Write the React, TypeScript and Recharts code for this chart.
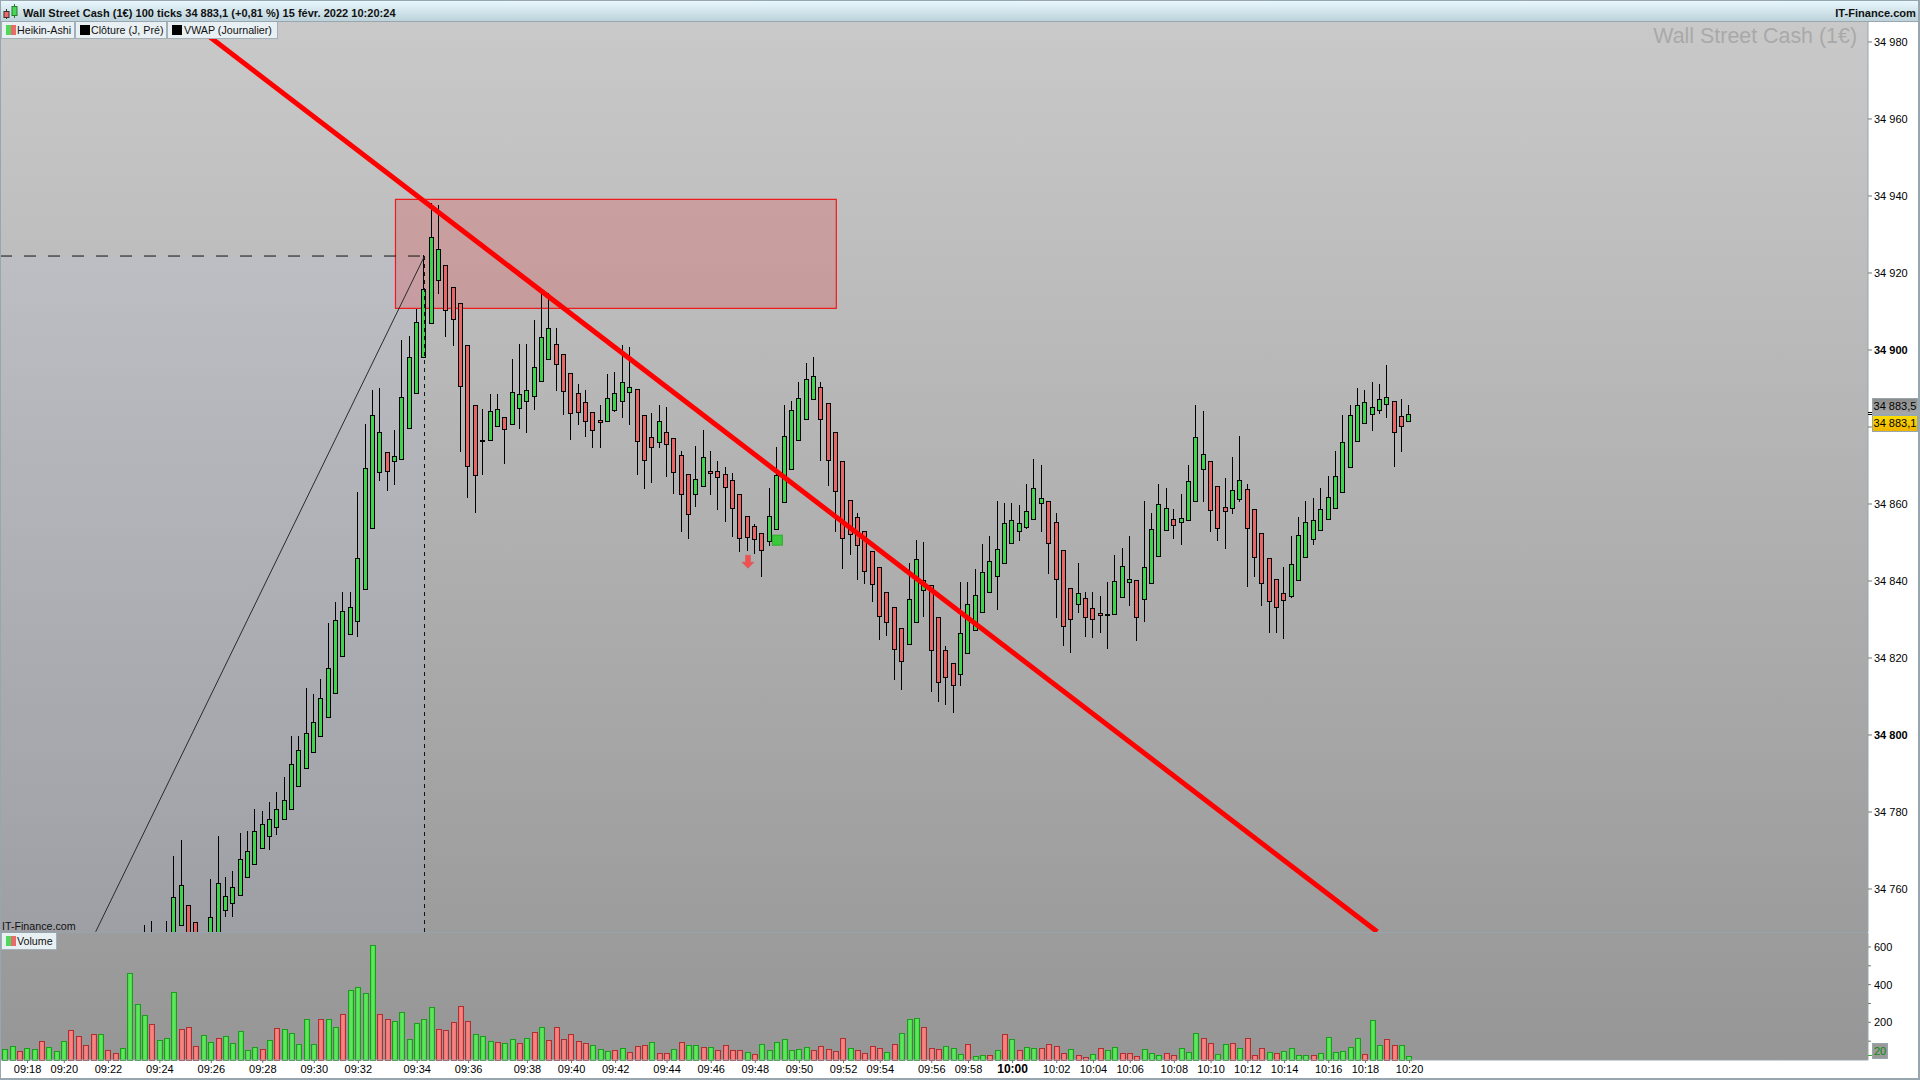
import React from "react";
import { ComposedChart, Bar, XAxis, YAxis, ReferenceLine, ReferenceArea, ReferenceDot } from "recharts";

const opens = [
34726,34727.5,34729,34728.5,34729.8,34731,34730,34731.5,34733,34735,
34733,34731,34730,34728.5,34731,34730.5,34730,34732,34736,34740,
34743,34744,34745,34746,34750.6,34755.8,34751.3,34747.5,34745,34748,
34754.5,34756.3,34758.4,34763,34766.4,34770.6,34773.8,34776,34778.3,34780.7,
34786.7,34791.3,34795.7,34799.7,34804.6,34811,34820.4,34826.2,34829.7,34837.8,
34853.7,34868.2,34873.4,34871.1,34871.6,34879.7,34888.8,34898.1,34906.9,34918.1,
34922,34916.3,34912.1,34901.2,34885.6,34876.7,34876.5,34880.2,34882.5,34880.9,
34884.9,34886.7,34888,34891.9,34897.6,34901.5,34898.9,34894,34888.8,34886.4,
34883.8,34881.7,34881.5,34884.3,34886.7,34889,34889.8,34883,34877.3,34876,
34878.6,34877.1,34872.6,34867.7,34862.5,34864.6,34868.5,34868.5,34867.7,34866.2,
34862.5,34856.8,34854.2,34852.4,34850.3,34853.4,34860.4,34869,34876.5,34882,
34887.2,34890.3,34886.2,34878.6,34871.1,34861,34856.5,34852.9,34847.7,34843.6,
34837.1,34833.2,34827.7,34823.6,34829.3,34837.6,34838.9,34830.6,34822,34818.6,
34815.8,34821.2,34827.4,34831.9,34837.1,34841.2,34844.6,34849.8,34852.9,34853.9,
34856,34860.2,34860.7,34855.2,34848,34838.1,34833.9,34835.5,34832.9,34831.6,
34831.4,34831.3,34835.8,34839.7,34840.2,34835.2,34839.4,34846.4,34853.2,34856,
34855.2,34855.8,34860.7,34869,34871.1,34864.6,34859.1,34858.9,34861.2,34863.8,
34858.6,34852.4,34845.9,34840.4,34836.8,34836,34840.2,34846.2,34850.8,34853.2,
34856,34858.9,34863,34869.5,34876.3,34881,34883.5,34884.3,34885.9,34886.7,
34882.8,34881.5];
const highs = [
34733,34734,34731,34733,34735,34733,34735,34736,34739,34737,
34735,34733,34732,34735,34733,34732,34736,34742,34746,34750.6,
34751.7,34747,34751.7,34768.6,34772.7,34755.8,34751.3,34748.3,34762.6,34773.8,
34763.1,34764.7,34774.5,34775.1,34780.8,34780.3,34782.6,34785.2,34789.1,34799.7,
34799.7,34812.2,34810.6,34814.5,34829.1,34834.5,34837.1,34837.1,34863.1,34880.7,
34889.6,34890.1,34873.4,34879.1,34902.6,34903.6,34910.6,34924.6,34938.1,34937.7,
34922,34916.3,34912.1,34901.2,34885.6,34884.7,34888.5,34888.5,34882.5,34897.7,
34901.6,34901.6,34907.8,34914.7,34914.7,34905.6,34898.9,34894,34891.1,34889.5,
34883.8,34885.7,34893.7,34894.3,34901.3,34900.9,34889.8,34883,34883.6,34885.7,
34885.1,34877.1,34873.8,34867.7,34875.1,34879.2,34873.8,34871.2,34869.6,34868,
34862.5,34856.8,34854.8,34852.4,34864.1,34874.7,34885.6,34886.7,34891.6,34896.5,
34898.1,34891.6,34886.2,34878.6,34871.1,34861,34857.6,34852.9,34847.7,34843.6,
34837.1,34833.2,34827.7,34844.6,34850.6,34850.1,34838.9,34830.6,34823,34818.6,
34839.7,34839.7,34843,34849.5,34851.6,34860.7,34860.2,34860.2,34859.7,34865.1,
34871.6,34870,34860.7,34857.6,34848,34838.1,34844.6,34837.1,34837.1,34836,
34839.7,34846.8,34848.5,34851.6,34840.2,34860.7,34857.6,34865.1,34864.1,34858.7,
34862.5,34870,34885.6,34884.1,34871.1,34864.6,34866.7,34872.1,34877.6,34865.1,
34858.6,34852.4,34845.9,34840.4,34843.6,34851.7,34856.6,34860.7,34861.5,34864.1,
34867.2,34873.7,34883,34885.6,34890,34889.5,34891.6,34891.1,34896,34886.7,
34887.2,34885.6];
const lows = [
34724,34726,34726,34727,34728,34727,34729,34730,34732,34729,
34727,34727,34725,34727,34728,34728,34729,34731,34735,34739,
34741,34741,34743,34744,34750.6,34744,34743,34742,34744,34745,
34752.6,34752.6,34758.4,34763,34766.4,34770.6,34770,34774,34777.9,34780.7,
34786.7,34791.3,34795.3,34799.7,34804.6,34811,34820.4,34826.2,34825.5,34837.8,
34853.7,34866,34863.4,34865,34871.6,34879.7,34888.8,34898.1,34906.9,34914.5,
34903.5,34901.1,34873.6,34861.5,34857.6,34867.6,34876.5,34880.2,34870.5,34880.9,
34879.6,34878.5,34884.5,34891.9,34897.6,34889.4,34883,34876.5,34880.6,34877.5,
34874.6,34874.6,34881.5,34884,34882.4,34880.6,34867.6,34864,34865.5,34874.6,
34867.1,34862.5,34852.6,34851,34859.1,34864.6,34862.3,34858.4,34855.4,34851.5,
34847.6,34847.9,34847,34841.1,34849,34853.4,34860.4,34869,34876.5,34882,
34887.2,34871.1,34864.6,34852.6,34843,34846.7,34840.2,34839.1,34834.5,34824.6,
34825.6,34814.2,34811.6,34823.6,34829.3,34830.6,34811.1,34808.5,34807.7,34805.6,
34812.6,34821.2,34827.4,34831.9,34837.1,34832.5,34844.6,34849.8,34850.4,34853.6,
34856,34852.6,34841.9,34830.5,34823,34821.4,34831.6,34825.5,34825.1,34826.6,
34822.4,34831.3,34835.8,34833.6,34824.5,34829.4,34839.4,34846.4,34853.2,34851,
34849.4,34855.8,34860.7,34860.6,34852.6,34850.5,34848.4,34857.5,34860.6,34838.5,
34841.1,34833.6,34826.6,34826.6,34825,34835.5,34840.2,34846.2,34849.4,34853.2,
34856,34858.9,34863,34869.5,34876.3,34881,34879,34883.5,34882.4,34869.5,
34873.6,34881.5];
const closes = [
34729,34731,34728,34731,34733,34729,34733,34735,34737,34731,
34729,34729,34727,34733,34730,34730,34734,34740,34744,34746,
34745,34746,34747,34757.8,34761,34746,34746,34745,34752.6,34761.5,
34758.1,34760.4,34767.7,34769.8,34775,34777,34778.1,34780.7,34783,34792.4,
34796,34800.4,34803.3,34809.5,34817.3,34829.8,34832.1,34833.2,34845.9,34869.3,
34883,34878.6,34868.5,34872.4,34887.7,34898.1,34907.2,34915.8,34929.3,34926.2,
34910.3,34908,34890.6,34869.8,34867.4,34876.3,34884.1,34884.6,34879.4,34889,
34888.5,34889.5,34895.5,34903.3,34905.6,34896.3,34889.3,34883.6,34883.8,34881.5,
34879.1,34881.3,34887.5,34888.8,34891.6,34890.3,34876.3,34871.3,34874.7,34881.5,
34875.5,34868.2,34862.5,34857.3,34866.4,34872.1,34868.1,34866.9,34864.3,34858.9,
34851.1,34851.4,34850.8,34848,34856.8,34867.4,34877.6,34884.3,34887.4,34892.4,
34893.2,34882.2,34871.3,34863.3,34851.1,34852.1,34849.3,34842.5,34839.1,34830.8,
34829.3,34822.3,34819.1,34835.2,34845.6,34840.2,34822,34813.7,34815,34812.9,
34826.4,34833.9,34836.3,34842.3,34845.1,34848.2,34855,34855.8,34855,34858.1,
34864.1,34861.5,34849.8,34840.4,34828.2,34830,34836.8,34830.6,34830,34831.2,
34831.2,34839.9,34843.8,34840.4,34830.6,34843.6,34853.4,34859.9,34858.9,34854.5,
34856.3,34865.9,34877.3,34872.9,34858.4,34853.7,34858.3,34863.6,34866.2,34853.7,
34846.2,34839.4,34834.7,34833.2,34835,34844.3,34851.9,34855.2,34855.8,34858.6,
34861.7,34867.2,34876,34883,34885.6,34886.4,34885.1,34887.2,34887.7,34878.6,
34880.2,34883.5];
const volumes = [
57,73,46,62,57,99,67,46,99,158,126,78,137,137,51,35,62,461,296,238,
190,105,115,360,163,174,73,131,94,115,126,89,152,51,67,57,105,168,163,142,
83,216,83,216,216,174,243,371,387,355,610,243,216,206,254,110,195,216,280,163,
158,200,285,206,137,126,99,94,89,110,89,115,147,174,105,174,110,137,99,89,
78,57,46,51,62,41,73,78,94,35,35,57,94,78,78,67,67,51,78,51,
51,41,30,83,51,94,110,51,57,67,51,73,57,46,115,62,51,35,73,62,
41,83,142,216,222,174,62,57,73,62,30,83,20,25,25,51,137,110,51,67,
62,62,83,73,35,57,25,14,30,62,51,67,35,35,20,57,35,25,35,25,
62,41,142,115,89,30,83,89,62,115,25,62,41,35,46,62,25,25,25,35,
121,41,46,67,115,30,211,78,110,78,78,20];
const volumeColorRows = [
"GGRGGRGGGR","RRRGRRGGGG","RGGGRRRGGR","GGGGGRGRGG","GGGRGGRGGG",
"GRRGGGGGGR","RRRRGGGRGG","RGRGRRRRRR","GGGRGRRRGR","RGRGGRGRRR",
"RGRGGGGGGG","RRRRRGRRRR","GRGGGRRRGG","GRGGRGRGRG","GRRRRGRRGR",
"GGRRRGGGRR","GGGRRGGRGR","RRGRGGGGRG","GGGGGRGGRRGG",
];
const volumeColors = volumeColorRows.join("").split("");

const tickIndexes = [3,8,14,21,28,35,42,48,56,63,71,77,83,90,96,102,108,114,119,126,131,137,143,148,153,159,164,169,174,180,185,191];
const tickLabels = ["09:18","09:20","09:22","09:24","09:26","09:28","09:30","09:32","09:34","09:36","09:38","09:40","09:42","09:44","09:46","09:48","09:50","09:52","09:54","09:56","09:58","10:00","10:02","10:04","10:06","10:08","10:10","10:12","10:14","10:16","10:18","10:20"];
const priceTicks = [34760,34780,34800,34820,34840,34860,34880,34900,34920,34940,34960,34980];
const priceTickLabels = ["34 760","34 780","34 800","34 820","34 840","34 860","","34 900","34 920","34 940","34 960","34 980"];
const boldPrices = [34800,34900];
const volumeTicks = [100,200,300,400,500,600];
const volumeTickLabels = ["","200","","400","","600"];

const priceDomain = [34748.83,34985.19];
const indexDomain = [-0.748,253.36];
const volumeDomain = [0,674];

const supplyZone = { x1: 53.05, x2: 113.02, top: 34939.1, bottom: 34910.8 };
const trendLine = [{ x: 25.2, y: 34985.1 },{ x: 186.6, y: 34748.9 }];
const swingLine = [{ x: 12.27, y: 34748.9 },{ x: 57, y: 34924.4 }];
const swingLevel = 34924.4;
const swingIndex = 57;
const sellSignal = { x: 101, y: 34845 };
const buySignal = { x: 105, y: 34850.6 };

const candleData = opens.map((open, i) => ({ i, open, high: highs[i], low: lows[i], close: closes[i] }));
const volumeData = volumes.map((volume, i) => ({ i, volume, up: volumeColors[i] === "G" }));

const FONT = '"Liberation Sans", Arial, sans-serif';
const BORDER = "#98a7af";

const Candle = (props: any) => {
  const { x, y, width, height, payload } = props;
  const range = payload.high - payload.low || 1;
  const k = height / range;
  const up = payload.close >= payload.open;
  const cx = Math.round(x + width / 2) - 0.5;
  const top = Math.round(y + (payload.high - Math.max(payload.open, payload.close)) * k) + 0.5;
  const bottom = Math.round(y + (payload.high - Math.min(payload.open, payload.close)) * k) + 0.5;
  return (
    <g shapeRendering="crispEdges">
      <line x1={cx} x2={cx} y1={y} y2={y + height} stroke="#000" strokeWidth={1} />
      {bottom - top < 1.5 ? (
        <rect x={cx - 2.5} y={top - 0.5} width={5} height={1.5} fill="#000" />
      ) : (
        <rect x={cx - 2} y={top} width={4} height={bottom - top} fill={up ? "#3fd24c" : "#e76565"} stroke="#000" strokeWidth={1} />
      )}
    </g>
  );
};

const VolumeBar = (props: any) => {
  const { x, y, width, height, payload } = props;
  const cx = Math.round(x + width / 2);
  return (
    <rect
      x={cx - 2.5}
      y={Math.round(y) + 0.5}
      width={5}
      height={Math.max(0, height)}
      fill={payload.up ? "url(#volG)" : "url(#volR)"}
      stroke={payload.up ? "#1b9c1b" : "#ad2f2f"}
      strokeWidth={1}
      shapeRendering="crispEdges"
    />
  );
};

const PriceTick = (props: any) => {
  const { x, y, payload } = props;
  const label = priceTickLabels[priceTicks.indexOf(payload.value)];
  if (!label) return <g />;
  return (
    <text x={x} y={y + 4} fontFamily={FONT} fontSize={11} fill="#000" fontWeight={boldPrices.includes(payload.value) ? 700 : 400}>
      {label}
    </text>
  );
};

const VolumeTick = (props: any) => {
  const { x, y, payload } = props;
  const label = volumeTickLabels[volumeTicks.indexOf(payload.value)];
  if (!label) return <g />;
  return (
    <text x={x} y={y + 4} fontFamily={FONT} fontSize={11} fill="#000">
      {label}
    </text>
  );
};

const TimeTick = (props: any) => {
  const { x, y, payload } = props;
  const label = tickLabels[tickIndexes.indexOf(payload.value)];
  return (
    <text x={x} y={y + 10} textAnchor="middle" fontFamily={FONT} fontSize={label === "10:00" ? 12 : 11} fontWeight={label === "10:00" ? 700 : 400} fill="#000">
      {label}
    </text>
  );
};

const SellArrow = (props: any) => {
  const { cx, cy } = props;
  return (
    <path
      d={`M${cx - 2.5} ${cy - 6.5} h5 v7 h3.5 l-6 6 l-6 -6 h3.5 z`}
      fill="#f05050"
      stroke="#d85a5a"
      strokeWidth={0.6}
    />
  );
};

const BuySquare = (props: any) => {
  const { cx, cy } = props;
  return <rect x={cx - 5} y={cy - 5} width={10} height={10} fill="#3cc83c" stroke="#2fae2f" strokeWidth={1} />;
};

const abs = (left: number, top: number, width: number, height: number, extra: any = {}) => ({
  position: "absolute" as const, left, top, width, height, boxSizing: "border-box" as const, ...extra,
});

const Chip = ({ left, width, top = 22, colors, label, textLeft = 15 }: any) => (
  <div style={abs(left, top, width, 17, { background: "#e9f0f4", border: "1px solid #a3b0b8", borderTop: "none", fontFamily: FONT, fontSize: 10.7, color: "#111", lineHeight: "16px" })}>
    <div style={abs(4, 3, 5, 10, { background: colors[0] })} />
    <div style={abs(9, 3, 5, 10, { background: colors[1] })} />
    <span style={{ position: "absolute", left: textLeft, top: 0, whiteSpace: "nowrap" }}>{label}</span>
  </div>
);

export default function App() {
  return (
    <div style={{ position: "fixed", left: 0, top: 0, width: 1920, height: 1080, background: "#fff", overflow: "hidden", fontFamily: FONT }}>
      <div style={abs(0, 22, 1868, 1038, { background: "linear-gradient(#c9c9c9, #969696)" })} />

      <div style={abs(0, 22, 1920, 910)}>
        <ComposedChart width={1920} height={910} data={candleData} margin={{ top: 0, right: 0, bottom: 0, left: 0 }}>
          <XAxis dataKey="i" type="number" scale="linear" domain={indexDomain} hide allowDataOverflow />
          <YAxis
            orientation="right"
            width={52}
            type="number"
            domain={priceDomain}
            allowDataOverflow
            ticks={priceTicks}
            interval={0}
            tickSize={4}
            tickMargin={2}
            tick={<PriceTick />}
            tickLine={{ stroke: "#777" }}
            axisLine={{ stroke: BORDER }}
          />
          <ReferenceArea x1={indexDomain[0]} x2={swingIndex} y1={priceDomain[0]} y2={swingLevel} fill="#c0c8ff" fillOpacity={0.09} stroke="none" ifOverflow="visible" />
          <ReferenceArea x1={supplyZone.x1} x2={supplyZone.x2} y1={supplyZone.bottom} y2={supplyZone.top} fill="#ff0000" fillOpacity={0.17} stroke="#ee1c1c" strokeWidth={1.2} ifOverflow="visible" />
          <Bar dataKey={(d: any) => [d.low, d.high]} shape={<Candle />} barSize={5} isAnimationActive={false} />
          <ReferenceLine segment={[{ x: indexDomain[0], y: swingLevel }, { x: swingIndex, y: swingLevel }]} stroke="#111" strokeDasharray="12 12" ifOverflow="visible" />
          <ReferenceLine segment={[{ x: swingIndex, y: swingLevel }, { x: swingIndex, y: priceDomain[0] }]} stroke="#111" strokeDasharray="4 4" ifOverflow="visible" />
          <ReferenceLine segment={swingLine} stroke="#2a2a2a" strokeWidth={1} ifOverflow="visible" />
          <ReferenceLine segment={trendLine} stroke="#ff0000" strokeWidth={5} ifOverflow="visible" />
          <ReferenceDot x={sellSignal.x} y={sellSignal.y} shape={<SellArrow />} ifOverflow="visible" />
          <ReferenceDot x={buySignal.x} y={buySignal.y} shape={<BuySquare />} ifOverflow="visible" />
        </ComposedChart>
      </div>

      <div style={abs(0, 933, 1920, 147)}>
        <ComposedChart width={1920} height={147} data={volumeData} margin={{ top: 0, right: 0, bottom: 0, left: 0 }}>
          <defs>
            <linearGradient id="volG" x1="0" x2="1" y1="0" y2="0">
              <stop offset="0" stopColor="#3ed43e" />
              <stop offset="0.5" stopColor="#66ea66" />
              <stop offset="1" stopColor="#3ed43e" />
            </linearGradient>
            <linearGradient id="volR" x1="0" x2="1" y1="0" y2="0">
              <stop offset="0" stopColor="#e96a6a" />
              <stop offset="0.5" stopColor="#fb8888" />
              <stop offset="1" stopColor="#e96a6a" />
            </linearGradient>
          </defs>
          <XAxis
            dataKey="i"
            type="number"
            scale="linear"
            domain={indexDomain}
            ticks={tickIndexes}
            interval={0}
            height={20}
            tickSize={3}
            tickMargin={0}
            tick={<TimeTick />}
            tickLine={{ stroke: "#777" }}
            axisLine={{ stroke: BORDER }}
            allowDataOverflow
          />
          <YAxis
            orientation="right"
            width={52}
            type="number"
            domain={volumeDomain}
            ticks={volumeTicks}
            interval={0}
            tickSize={3}
            tickMargin={3}
            tick={<VolumeTick />}
            tickLine={{ stroke: "#777" }}
            axisLine={{ stroke: BORDER }}
          />
          <Bar dataKey="volume" shape={<VolumeBar />} barSize={5} isAnimationActive={false} />
        </ComposedChart>
      </div>

      <div style={abs(0, 0, 1920, 22, { background: "linear-gradient(#e8f8fd, #bdd2da)", borderTop: `1px solid ${BORDER}`, borderBottom: `1px solid ${BORDER}` })} />
      <svg style={abs(3, 3, 16, 17)}>
        <line x1="3.5" x2="3.5" y1="6" y2="16" stroke="#333" />
        <rect x="1" y="8.5" width="5" height="6" fill="#ee6a6a" stroke="#333" />
        <line x1="11.5" x2="11.5" y1="1" y2="15" stroke="#2a7a2a" />
        <rect x="9" y="3.5" width="5" height="9" fill="#48d858" stroke="#2a7a2a" />
      </svg>
      <div style={{ position: "absolute", left: 23, top: 5, fontSize: 11, letterSpacing: 0.02, fontWeight: 700, color: "#111", whiteSpace: "nowrap", lineHeight: "16px" }}>
        Wall Street Cash (1€) 100 ticks 34 883,1 (+0,81 %) 15 févr. 2022 10:20:24
      </div>
      <div style={{ position: "absolute", right: 4, top: 5, fontSize: 11.1, fontWeight: 700, color: "#111", whiteSpace: "nowrap", lineHeight: "16px" }}>
        IT-Finance.com
      </div>

      <Chip left={1} width={74} colors={["#4fd85a", "#e96a6a"]} label="Heikin-Ashi" />
      <Chip left={75} width={92} colors={["#000", "#000"]} label="Clôture (J, Pré)" />
      <Chip left={167} width={111} colors={["#000", "#000"]} label="VWAP (Journalier)" textLeft={16} />

      <div style={{ position: "absolute", right: 63, top: 24, fontSize: 21.4, color: "#a9a9a9", whiteSpace: "nowrap", lineHeight: "24px" }}>
        Wall Street Cash (1€)
      </div>
      <div style={{ position: "absolute", left: 2, top: 919, fontSize: 10.7, color: "#111", whiteSpace: "nowrap", lineHeight: "14px" }}>
        IT-Finance.com
      </div>

      <div style={abs(0, 932, 1868, 1, { background: "#94a5ae" })} />
      <Chip left={1} top={933} width={56} colors={["#4fd85a", "#e96a6a"]} label="Volume" />

      <div style={abs(0, 0, 1, 1080, { background: BORDER })} />
      <div style={abs(1918, 0, 2, 1080, { background: BORDER })} />
      <div style={abs(0, 1078, 1920, 2, { background: BORDER })} />

      <div style={abs(1868, 412, 4, 1, { background: "#000" })} />
      <div style={abs(1868, 414, 4, 1, { background: "#000" })} />
      <div style={abs(1872, 398, 46, 17, { background: "linear-gradient(#8c8c8c,#a8a8a8)", border: `1px solid ${BORDER}`, fontSize: 11, lineHeight: "15px", textAlign: "center", color: "#000" })}>34 883,5</div>
      <div style={abs(1872, 415, 46, 17, { background: "linear-gradient(#ffdd00,#f0b400)", border: `1px solid ${BORDER}`, fontSize: 11, lineHeight: "15px", textAlign: "center", color: "#000" })}>34 883,1</div>
      <div style={abs(1868, 1055, 4, 1, { background: "#3aa83a" })} />
      <div style={abs(1872, 1043, 16, 16, { background: "#9a9a9a", border: `1px solid ${BORDER}`, fontSize: 11, lineHeight: "14px", textAlign: "center", color: "#0a8a0a" })}>20</div>
    </div>
  );
}
